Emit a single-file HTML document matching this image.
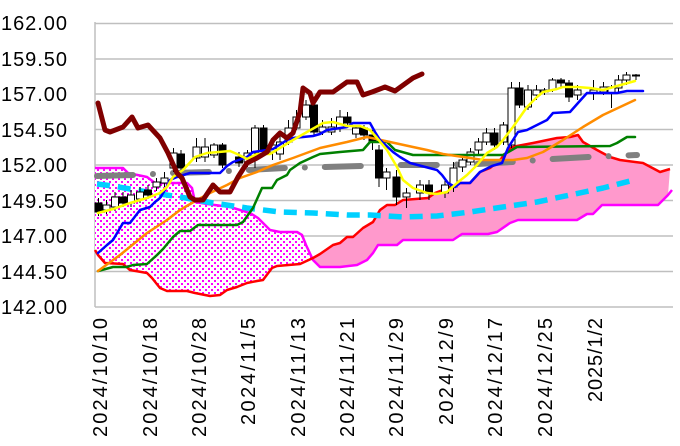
<!DOCTYPE html>
<html><head><meta charset="utf-8"><style>html,body{margin:0;padding:0;background:#fff;}svg{display:block}</style></head>
<body>
<svg width="680" height="446" viewBox="0 0 680 446" xmlns="http://www.w3.org/2000/svg" font-family="Liberation Sans, sans-serif">
<defs>
<pattern id="dots" width="6" height="6" patternUnits="userSpaceOnUse">
<rect width="6" height="6" fill="#fff"/>
<rect x="1" y="1" width="2" height="2" fill="#ff00ff"/>
<rect x="4" y="4" width="2" height="2" fill="#ff00ff"/>
</pattern>
<clipPath id="cl"><rect x="0" y="0" width="312" height="446"/></clipPath>
<clipPath id="cr"><rect x="312" y="0" width="400" height="446"/></clipPath>
</defs>
<g stroke="#bfbfbf" stroke-width="1.5">
<line x1="95" y1="23.5" x2="673" y2="23.5"/>
<line x1="95" y1="59" x2="673" y2="59"/>
<line x1="95" y1="94" x2="673" y2="94"/>
<line x1="95" y1="129.5" x2="673" y2="129.5"/>
<line x1="95" y1="165" x2="673" y2="165"/>
<line x1="95" y1="200.5" x2="673" y2="200.5"/>
<line x1="95" y1="236" x2="673" y2="236"/>
<line x1="95" y1="271.5" x2="673" y2="271.5"/>
<line x1="95" y1="307" x2="673" y2="307"/>
<line x1="95" y1="22" x2="95" y2="307"/>
</g>
<g font-size="20" fill="#000" text-anchor="end">
<text x="67" y="30" textLength="66">162.00</text>
<text x="67" y="66" textLength="66">159.50</text>
<text x="67" y="101" textLength="66">157.00</text>
<text x="67" y="137" textLength="66">154.50</text>
<text x="67" y="172" textLength="66">152.00</text>
<text x="67" y="208" textLength="66">149.50</text>
<text x="67" y="243" textLength="66">147.00</text>
<text x="67" y="279" textLength="66">144.50</text>
<text x="67" y="314" textLength="66">142.00</text>
</g>
<g font-size="20" fill="#000" text-anchor="end">
<text transform="translate(107,318) rotate(-90)" textLength="119">2024/10/10</text>
<text transform="translate(157,318) rotate(-90)" textLength="119">2024/10/18</text>
<text transform="translate(206,318) rotate(-90)" textLength="119">2024/10/28</text>
<text transform="translate(255,318) rotate(-90)" textLength="107">2024/11/5</text>
<text transform="translate(305,318) rotate(-90)" textLength="119">2024/11/13</text>
<text transform="translate(354,318) rotate(-90)" textLength="119">2024/11/21</text>
<text transform="translate(403,318) rotate(-90)" textLength="119">2024/11/29</text>
<text transform="translate(453,318) rotate(-90)" textLength="107">2024/12/9</text>
<text transform="translate(502,318) rotate(-90)" textLength="119">2024/12/17</text>
<text transform="translate(552,318) rotate(-90)" textLength="119">2024/12/25</text>
<text transform="translate(602,318) rotate(-90)" textLength="84">2025/1/2</text>
</g>
<!-- cloud -->
<g id="cloud">
<polygon clip-path="url(#cl)" fill="url(#dots)" points="95,168 123,168 128,173 147,177 155,183 170,183 187,183 192,188 195,202 207,204 230,207 240,210 250,213 258,218 270,230 280,232 297,232 302,235 306,245 313,260 320,267 340,267 357,265 367,260 373,253 378,245 397,245 403,240 453,240 462,234 488,234 497,232 510,223 518,220 577,220 587,214 593,214 602,205 658,205 668,195 670,169 660,172 643,163 620,160 610,157 597,150 583,142 578,135 570,137 557,138 533,143 517,146 510,148 500,160 490,168 480,172 470,183 460,183 448,188 435,193 428,198 403,200 395,205 387,205 380,210 373,222 363,228 353,237 347,237 340,243 333,245 320,254 313,258 300,264 277,266 272,268 263,280 257,281 247,283 237,287 227,290 220,295 210,296 195,293 187,291 167,291 160,288 152,278 147,273 130,270 123,264 105,263 98,255 95,250"/>
<polygon clip-path="url(#cr)" fill="#ff99cc" points="95,168 123,168 128,173 147,177 155,183 170,183 187,183 192,188 195,202 207,204 230,207 240,210 250,213 258,218 270,230 280,232 297,232 302,235 306,245 313,260 320,267 340,267 357,265 367,260 373,253 378,245 397,245 403,240 453,240 462,234 488,234 497,232 510,223 518,220 577,220 587,214 593,214 602,205 658,205 668,195 670,169 660,172 643,163 620,160 610,157 597,150 583,142 578,135 570,137 557,138 533,143 517,146 510,148 500,160 490,168 480,172 470,183 460,183 448,188 435,193 428,198 403,200 395,205 387,205 380,210 373,222 363,228 353,237 347,237 340,243 333,245 320,254 313,258 300,264 277,266 272,268 263,280 257,281 247,283 237,287 227,290 220,295 210,296 195,293 187,291 167,291 160,288 152,278 147,273 130,270 123,264 105,263 98,255 95,250"/>
</g>
<g fill="none" stroke-linejoin="round">
<polyline stroke="#ff00ff" stroke-width="2.5" points="95,168 123,168 128,173 147,177 155,183 170,183 187,183 192,188 195,202 207,204 230,207 240,210 250,213 258,218 270,230 280,232 297,232 302,235 306,245 313,260 320,267 340,267 357,265 367,260 373,253 378,245 397,245 403,240 453,240 462,234 488,234 497,232 510,223 518,220 577,220 587,214 593,214 602,205 658,205 668,195 672,190"/>
<polyline stroke="#ff0000" stroke-width="2.5" points="95,250 98,255 105,263 123,264 130,270 147,273 152,278 160,288 167,291 187,291 195,293 210,296 220,295 227,290 237,287 247,283 257,281 263,280 272,268 277,266 300,264 313,258 320,254 333,245 340,243 347,237 353,237 363,228 373,222 380,210 387,205 395,205 403,200 428,198 435,193 448,188 460,183 470,183 480,172 490,168 500,160 510,148 517,146 533,143 557,138 570,137 578,135 583,142 597,150 610,157 620,160 643,163 660,172 670,169"/>
<polyline stroke="#00d0ff" stroke-width="5.5" stroke-dasharray="13 8" points="97,184 113,186 147,192 180,197 213,203 247,208 280,212 313,213 347,215 370,215 403,217 437,216 470,212 503,207 537,202 570,195 603,188 630,181"/>
<polyline stroke="#808080" stroke-width="6" stroke-linecap="round" stroke-dasharray="36 20 0.01 20" points="97,176 135,175 172,173 210,172 248,170 285,168 325,167 362,166 400,165 437,165 477,164 513,162 552,159 588,157 637,155"/>
</g>
<!-- candles -->
<g stroke="#000" stroke-width="1">
<line x1="98.5" y1="198" x2="98.5" y2="216"/><rect x="95" y="203" width="7" height="9" fill="#000"/>
<line x1="106.5" y1="200" x2="106.5" y2="214"/><rect x="103" y="205" width="7" height="5" fill="#fff"/>
<line x1="115" y1="192" x2="115" y2="211"/><rect x="111.5" y="197" width="7" height="10" fill="#fff"/>
<line x1="123" y1="192" x2="123" y2="207"/><rect x="119.5" y="197" width="7" height="6" fill="#000"/>
<line x1="131" y1="190" x2="131" y2="207"/><rect x="127.5" y="195" width="7" height="8" fill="#fff"/>
<line x1="140" y1="187" x2="140" y2="203"/><rect x="136.5" y="192" width="7" height="7" fill="#fff"/>
<line x1="148" y1="185" x2="148" y2="199"/><rect x="144.5" y="190" width="7" height="5" fill="#000"/>
<line x1="156.5" y1="178" x2="156.5" y2="191"/><rect x="153" y="182" width="7" height="5" fill="#fff"/>
<line x1="164.5" y1="172" x2="164.5" y2="187"/><rect x="161" y="178" width="7" height="5" fill="#fff"/>
<line x1="173.5" y1="148" x2="173.5" y2="172"/><rect x="170" y="153" width="7" height="15" fill="#fff"/>
<line x1="181" y1="150" x2="181" y2="172"/><rect x="177.5" y="154" width="7" height="14" fill="#000"/>
<line x1="196.5" y1="138" x2="196.5" y2="162"/><rect x="193" y="147" width="7" height="11" fill="#fff"/>
<line x1="205" y1="138" x2="205" y2="162"/><rect x="201.5" y="147" width="7" height="10" fill="#fff"/>
<line x1="214" y1="143" x2="214" y2="158"/><rect x="210.5" y="145" width="7" height="10" fill="#fff"/>
<line x1="222.5" y1="143" x2="222.5" y2="168"/><rect x="219" y="145" width="7" height="20" fill="#000"/>
<line x1="239" y1="152" x2="239" y2="167"/><rect x="235.5" y="157" width="7" height="6" fill="#000"/>
<line x1="247.5" y1="150" x2="247.5" y2="167"/><rect x="244" y="153" width="7" height="9" fill="#fff"/>
<line x1="255" y1="125" x2="255" y2="168"/><rect x="251.5" y="128" width="7" height="25" fill="#fff"/>
<line x1="263.5" y1="125" x2="263.5" y2="155"/><rect x="260" y="128" width="7" height="22" fill="#000"/>
<line x1="272.5" y1="145" x2="272.5" y2="160"/><rect x="269" y="145" width="7" height="7" fill="#fff"/>
<line x1="280" y1="133" x2="280" y2="160"/><rect x="276.5" y="142" width="7" height="12" fill="#fff"/>
<line x1="288.5" y1="120" x2="288.5" y2="145"/><rect x="285" y="128" width="7" height="14" fill="#fff"/>
<line x1="296.5" y1="110" x2="296.5" y2="130"/><rect x="293" y="117" width="7" height="11" fill="#fff"/>
<line x1="306" y1="100" x2="306" y2="120"/><rect x="302.5" y="105" width="7" height="12" fill="#fff"/>
<line x1="314" y1="100" x2="314" y2="135"/><rect x="310.5" y="105" width="7" height="27" fill="#000"/>
<line x1="322.5" y1="120" x2="322.5" y2="135"/><rect x="319" y="127" width="7" height="5" fill="#fff"/>
<line x1="331.5" y1="118" x2="331.5" y2="135"/><rect x="328" y="127" width="7" height="5" fill="#fff"/>
<line x1="340" y1="110" x2="340" y2="132"/><rect x="336.5" y="117" width="7" height="11" fill="#fff"/>
<line x1="347.5" y1="112" x2="347.5" y2="128"/><rect x="344" y="117" width="7" height="6" fill="#000"/>
<line x1="356" y1="125" x2="356" y2="138"/><rect x="352.5" y="128" width="7" height="6" fill="#fff"/>
<line x1="364" y1="125" x2="364" y2="140"/><rect x="360.5" y="128" width="7" height="7" fill="#000"/>
<line x1="372.5" y1="130" x2="372.5" y2="150"/><rect x="369" y="135" width="7" height="7" fill="#000"/>
<line x1="379" y1="145" x2="379" y2="187"/><rect x="375.5" y="150" width="7" height="28" fill="#000"/>
<line x1="386.5" y1="168" x2="386.5" y2="190"/><rect x="383" y="172" width="7" height="6" fill="#fff"/>
<line x1="396.5" y1="170" x2="396.5" y2="205"/><rect x="393" y="177" width="7" height="20" fill="#000"/>
<line x1="406.5" y1="188" x2="406.5" y2="208"/><rect x="403" y="193" width="7" height="4" fill="#fff"/>
<line x1="420" y1="180" x2="420" y2="200"/><rect x="416.5" y="185" width="7" height="8" fill="#fff"/>
<line x1="429" y1="180" x2="429" y2="200"/><rect x="425.5" y="185" width="7" height="7" fill="#000"/>
<line x1="445" y1="180" x2="445" y2="198"/><rect x="441.5" y="185" width="7" height="8" fill="#fff"/>
<line x1="453.5" y1="162" x2="453.5" y2="192"/><rect x="450" y="168" width="7" height="19" fill="#fff"/>
<line x1="462.5" y1="155" x2="462.5" y2="172"/><rect x="459" y="160" width="7" height="7" fill="#fff"/>
<line x1="470.5" y1="148" x2="470.5" y2="165"/><rect x="467" y="152" width="7" height="10" fill="#fff"/>
<line x1="478.5" y1="138" x2="478.5" y2="155"/><rect x="475" y="142" width="7" height="8" fill="#fff"/>
<line x1="486.5" y1="128" x2="486.5" y2="145"/><rect x="483" y="133" width="7" height="9" fill="#fff"/>
<line x1="494.5" y1="128" x2="494.5" y2="150"/><rect x="491" y="133" width="7" height="12" fill="#000"/>
<line x1="503.5" y1="122" x2="503.5" y2="145"/><rect x="500" y="125" width="7" height="17" fill="#fff"/>
<line x1="511.5" y1="82" x2="511.5" y2="148"/><rect x="508" y="88" width="7" height="57" fill="#fff"/>
<line x1="519.5" y1="82" x2="519.5" y2="108"/><rect x="516" y="88" width="7" height="17" fill="#000"/>
<line x1="528" y1="85" x2="528" y2="110"/><rect x="524.5" y="90" width="7" height="17" fill="#fff"/>
<line x1="536.5" y1="85" x2="536.5" y2="100"/><rect x="533" y="90" width="7" height="5" fill="#fff"/>
<line x1="544.5" y1="88" x2="544.5" y2="95"/><rect x="541" y="90" width="7" height="2" fill="#fff"/>
<line x1="552.5" y1="78" x2="552.5" y2="92"/><rect x="549" y="80" width="7" height="10" fill="#fff"/>
<line x1="561" y1="78" x2="561" y2="88"/><rect x="557.5" y="80" width="7" height="3" fill="#000"/>
<line x1="569" y1="80" x2="569" y2="102"/><rect x="565.5" y="83" width="7" height="14" fill="#000"/>
<line x1="577.5" y1="85" x2="577.5" y2="100"/><rect x="574" y="90" width="7" height="5" fill="#fff"/>
<line x1="593.5" y1="80" x2="593.5" y2="100"/><rect x="590" y="90" width="7" height="3" fill="#fff"/>
<line x1="603.5" y1="82" x2="603.5" y2="95"/><rect x="600" y="87" width="7" height="5" fill="#fff"/>
<line x1="611.5" y1="85" x2="611.5" y2="108"/><rect x="608" y="87" width="7" height="6" fill="#fff"/>
<line x1="618.5" y1="75" x2="618.5" y2="92"/><rect x="615" y="80" width="7" height="8" fill="#fff"/>
<line x1="626.5" y1="72" x2="626.5" y2="85"/><rect x="623" y="75" width="7" height="5" fill="#fff"/>
<line x1="636" y1="74" x2="636" y2="80"/><rect x="632.5" y="75" width="7" height="1" fill="#fff"/>
</g>
<g fill="none" stroke-linejoin="round" stroke-linecap="round">
<polyline stroke="#008000" stroke-width="2.5" points="98,271 113,267 127,267 133,265 147,264 157,255 163,249 173,237 180,231 190,231 198,225 237,225 243,222 253,208 262,188 272,188 277,180 287,175 290,170 300,163 313,157 320,154 340,152 363,150 370,142 387,142 395,150 413,155 503,155 517,147 610,146 617,143 627,137 635,137"/>
<polyline stroke="#ff8c00" stroke-width="2.5" points="98,271 120,255 147,233 167,220 180,210 197,200 210,193 227,185 240,178 257,172 273,165 293,158 320,148 347,142 367,137 390,142 413,147 427,150 443,154 470,158 483,160 513,160 527,158 543,152 563,140 583,127 603,115 635,100"/>
<polyline stroke="#0000ff" stroke-width="2.5" points="98,253 107,245 113,240 123,223 130,223 140,210 150,207 155,202 160,198 165,190 170,180 177,177 190,173 220,173 227,166 233,162 247,157 253,152 267,150 273,149 287,140 293,138 313,136 320,134 327,130 347,127 353,123 370,123 375,132 380,140 393,152 400,157 410,163 437,170 442,175 448,183 455,187 460,183 470,183 480,172 492,166 502,163 508,148 513,140 518,132 527,130 533,127 547,120 553,113 570,112 578,103 587,93 617,93 627,91 643,91"/>
<polyline stroke="#ffff00" stroke-width="2.5" points="98,213 113,209 130,203 147,198 160,193 167,187 173,177 183,170 195,157 207,153 230,151 237,154 247,159 257,154 270,154 280,148 293,140 307,132 323,123 333,122 347,126 360,126 370,130 377,138 387,150 397,167 403,180 413,188 427,193 437,194 447,192 457,183 467,175 477,165 487,153 497,147 503,140 513,127 527,107 537,97 543,92 557,89 563,87 577,87 590,88 603,90 617,86 635,81"/>
<polyline stroke="#800000" stroke-width="5" points="98,103 105,130 110,132 123,127 132,117 138,128 148,125 160,138 168,153 177,173 182,178 190,197 195,200 203,200 213,185 220,192 230,192 238,177 247,163 257,158 267,152 273,140 280,133 287,138 293,133 300,112 303,88 310,93 313,103 320,92 333,92 347,82 357,82 363,95 372,92 385,87 395,91 413,78 422,74"/>
</g>
</svg>
</body></html>
